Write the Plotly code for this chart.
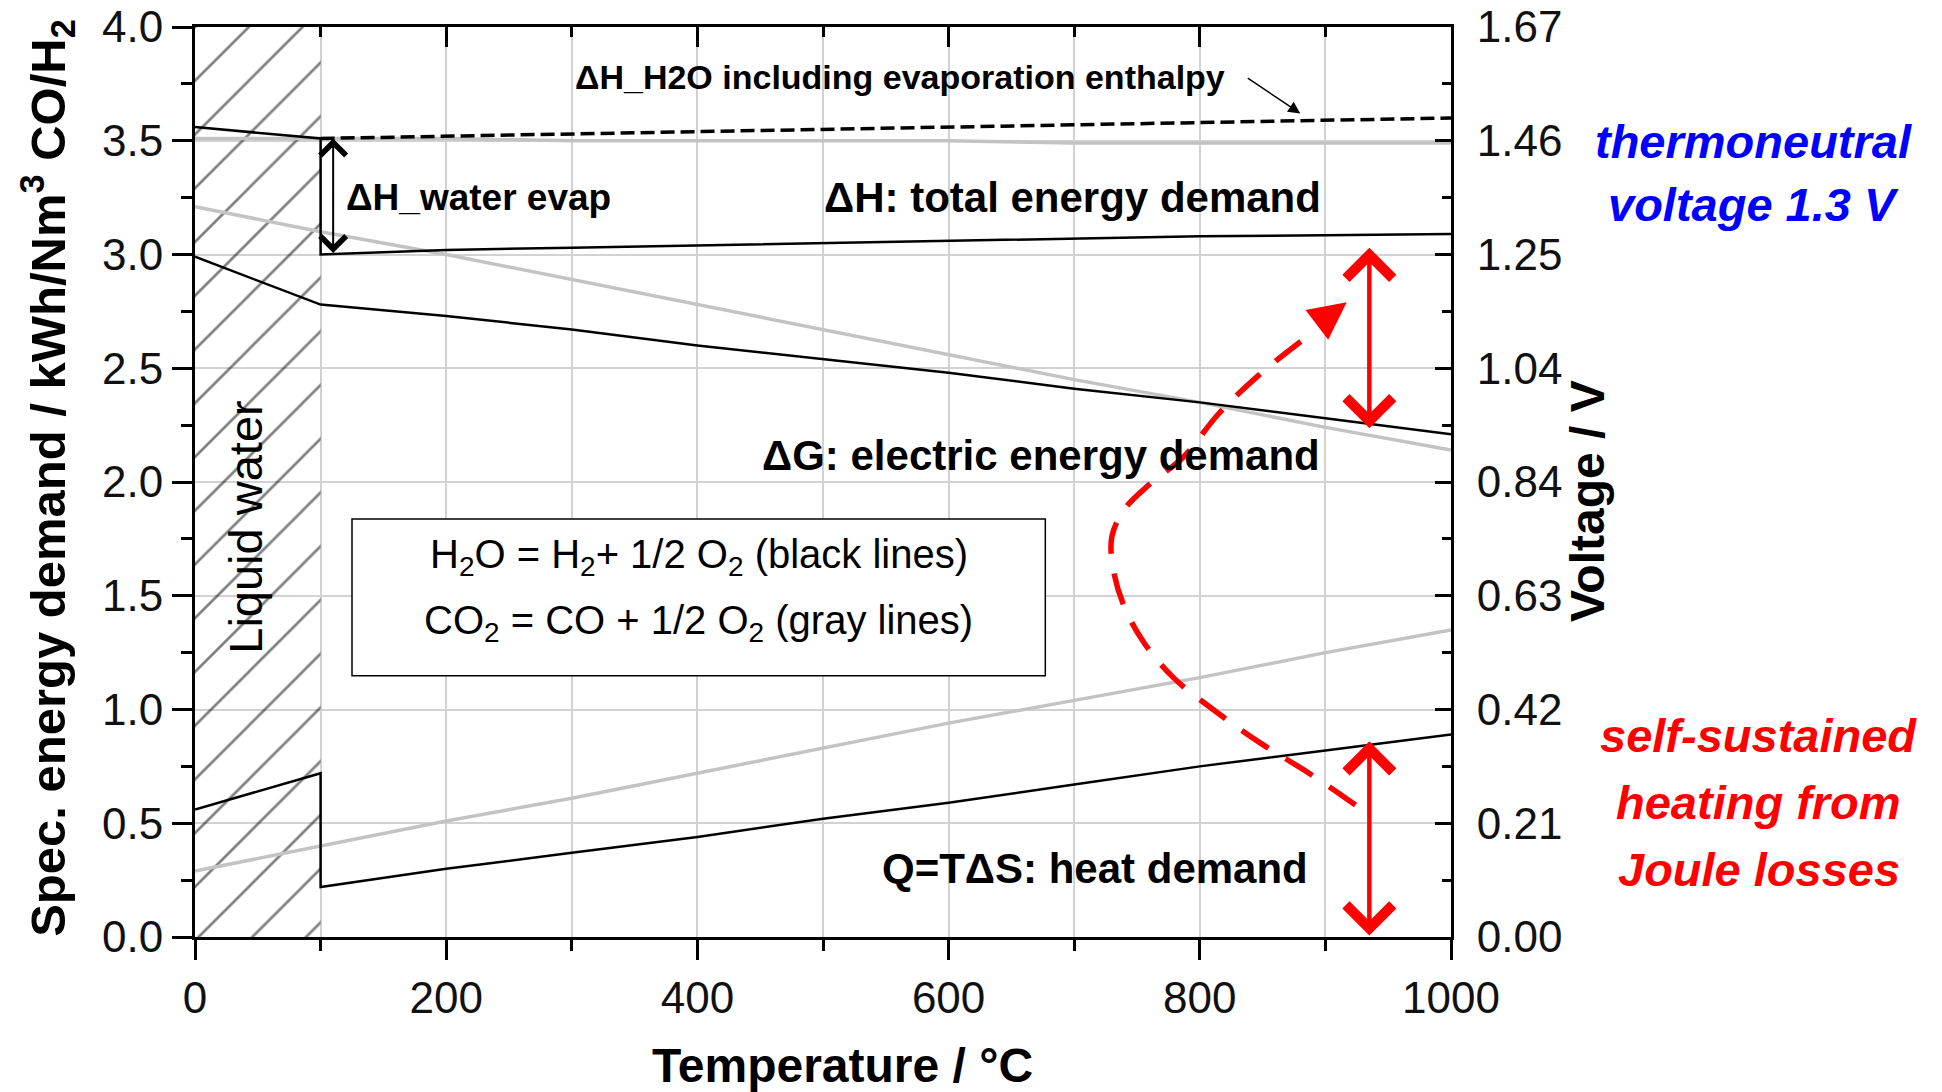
import plotly.graph_objects as go

FONT = "Liberation Sans, Arial, Helvetica, sans-serif"
GRID = "#d2d2d2"
GRAY = "#c3c3c3"

# ---------------- data ----------------
T_all = [0, 100, 200, 300, 400, 500, 600, 700, 800, 900, 1000]
T_liquid = [0, 100]
T_steam = [100, 200, 300, 400, 500, 600, 700, 800, 900, 1000]

# H2O = H2 + 1/2 O2  (black lines), kWh/Nm3
h2o_dH_liquid = [3.56, 3.51]
h2o_dH_steam = [3.00, 3.02, 3.03, 3.04, 3.05, 3.06, 3.07, 3.08, 3.085, 3.09]
h2o_dH_incl_evap = [3.51, 3.52, 3.53, 3.54, 3.55, 3.56, 3.57, 3.58, 3.59, 3.60]
h2o_dG = [2.99, 2.78, 2.73, 2.67, 2.60, 2.54, 2.48, 2.41, 2.35, 2.28, 2.21]
h2o_Q_liquid = [0.56, 0.72]
h2o_Q_steam = [0.22, 0.30, 0.37, 0.44, 0.52, 0.59, 0.67, 0.75, 0.82, 0.89]

# CO2 = CO + 1/2 O2  (gray lines)
co2_dH = [3.51, 3.51, 3.51, 3.50, 3.50, 3.50, 3.50, 3.49, 3.49, 3.49, 3.49]
co2_dG = [3.21, 3.10, 3.00, 2.89, 2.78, 2.67, 2.56, 2.45, 2.35, 2.24, 2.14]
co2_Q = [0.29, 0.40, 0.51, 0.61, 0.72, 0.83, 0.94, 1.04, 1.14, 1.25, 1.35]

# liquid-water (hatched) temperature range
liquid_range = [0, 100]
y_range = [0, 4]

# evaporation enthalpy arrow (T, from, to)
evap_arrow_T = 110
evap_arrow_v = [3.51, 3.00]

# red "Joule losses" arrows
joule_T = 935
joule_upper = [3.03, 2.23]
joule_lower = [0.86, 0.00]

# red dashed curved arrow
curve_T = [924, 887, 849, 813, 779, 756, 740, 731, 730, 740, 760, 787, 815, 847, 881]
curve_v = [0.58, 0.72, 0.85, 0.99, 1.14, 1.29, 1.45, 1.62, 1.76, 1.88, 1.99, 2.11, 2.30, 2.47, 2.62]
curve_tip = [917, 2.79]

# tick labels
x_ticks = [0, 200, 400, 600, 800, 1000]
y_ticks = [0, 0.5, 1.0, 1.5, 2.0, 2.5, 3.0, 3.5, 4.0]
voltage_labels = ["0.00", "0.21", "0.42", "0.63", "0.84", "1.04", "1.25", "1.46", "1.67"]

# box with reaction equations (T range, energy range)
box_T = [125, 677]
box_v = [1.148, 1.837]

fig = go.Figure()

# hatched liquid-water region
fig.add_trace(go.Scatter(
    x=[liquid_range[0], liquid_range[0], liquid_range[1], liquid_range[1], liquid_range[0]],
    y=[y_range[0], y_range[1], y_range[1], y_range[0], y_range[0]],
    mode="lines", line=dict(width=0, color="rgba(0,0,0,0)"),
    fill="toself", fillcolor="rgba(0,0,0,0)",
    fillpattern=dict(shape="/", fgcolor="black", bgcolor="rgba(0,0,0,0)",
                     size=38, solidity=0.07, fillmode="overlay"),
    hoverinfo="skip"))

# gray lines (CO2)
for vals in (co2_dH, co2_dG, co2_Q):
    fig.add_trace(go.Scatter(x=T_all, y=vals, mode="lines",
                             line=dict(color=GRAY, width=3.5), hoverinfo="skip"))

# black lines (H2O)
fig.add_trace(go.Scatter(x=T_liquid + T_steam, y=h2o_dH_liquid + h2o_dH_steam, mode="lines",
                         line=dict(color="black", width=2.5), hoverinfo="skip"))
fig.add_trace(go.Scatter(x=T_steam, y=h2o_dH_incl_evap, mode="lines",
                         line=dict(color="black", width=3.5, dash="14px,6px"), hoverinfo="skip"))
fig.add_trace(go.Scatter(x=T_all, y=h2o_dG, mode="lines",
                         line=dict(color="black", width=2.5), hoverinfo="skip"))
fig.add_trace(go.Scatter(x=T_liquid + T_steam, y=h2o_Q_liquid + h2o_Q_steam, mode="lines",
                         line=dict(color="black", width=2.5), hoverinfo="skip"))

# red dashed curve (on overlay axes so they get drawn and sit on top)
fig.add_trace(go.Scatter(x=curve_T, y=curve_v, mode="lines", xaxis="x2", yaxis="y2",
                         line=dict(color="#ff0000", width=5.5, dash="32px,20px", shape="spline",
                                   smoothing=1.0),
                         hoverinfo="skip"))

# equations box
fig.add_shape(type="rect", xref="x", yref="y", x0=box_T[0], x1=box_T[1], y0=box_v[0], y1=box_v[1],
              line=dict(color="black", width=1.5), fillcolor="white", layer="above")

ann = []
def text(x, y, s, size, bold=True, xanchor="center", color="black", italic=False,
         xref="x", yref="y", angle=0):
    ann.append(dict(x=x, y=y, xref=xref, yref=yref, text=s, showarrow=False, xanchor=xanchor,
                    yanchor="middle", textangle=angle,
                    font=dict(family=FONT, size=size, color=color,
                              weight="bold" if bold else "normal",
                              style="italic" if italic else "normal")))

text(561, 3.78, "ΔH_H2O including evaporation enthalpy", 34)
text(119, 3.25, "ΔH_water evap", 37, xanchor="left")
text(898, 3.25, "ΔH: total energy demand", 42, xanchor="right")
text(897, 2.115, "ΔG: electric energy demand", 42, xanchor="right")
text(888, 0.30, "Q=TΔS: heat demand", 42, xanchor="right")
text(40, 1.80, "Liquid water", 47, bold=False, angle=-90)
text(401, 1.67, "H<sub>2</sub>O = H<sub>2</sub>+ 1/2 O<sub>2</sub> (black lines)", 40, bold=False)
text(401, 1.38, "CO<sub>2</sub> = CO + 1/2 O<sub>2</sub> (gray lines)", 40, bold=False)

# axis titles (paper coordinates)
text(0.5154, -0.1407, "Temperature / °C", 48, xref="paper", yref="paper")
text(-0.1175, 0.505, "Spec. energy demand / kWh/Nm<sup>3</sup> CO/H<sub>2</sub>", 49,
     xref="paper", yref="paper", angle=-90)
text(1.1087, 0.4785, "Voltage / V", 48, xref="paper", yref="paper", angle=-90)

# right side notes (paper coordinates)
for s, yp in zip(["thermoneutral", "voltage 1.3 V"], [0.8745, 0.805]):
    text(1.2405, yp, s, 47, color="#0000ff", italic=True, xref="paper", yref="paper")
for s, yp in zip(["self-sustained", "heating from", "Joule losses"], [0.2209, 0.1473, 0.0747]):
    text(1.245, yp, s, 47, color="#ff0000", italic=True, xref="paper", yref="paper")

# arrows
ann.append(dict(x=880, y=3.62, ax=837, ay=3.78, xref="x", yref="y", axref="x", ayref="y",
                showarrow=True, arrowhead=2, arrowsize=1.6, arrowwidth=1.5, arrowcolor="black", text=""))
ann.append(dict(x=evap_arrow_T, y=evap_arrow_v[0], ax=evap_arrow_T, ay=evap_arrow_v[1],
                xref="x", yref="y", axref="x", ayref="y", showarrow=True, arrowside="end+start",
                arrowhead=4, startarrowhead=4, arrowsize=2.5, startarrowsize=2.5,
                arrowwidth=2, arrowcolor="black", text=""))
for seg in (joule_upper, joule_lower):
    ann.append(dict(x=joule_T, y=seg[0], ax=joule_T, ay=seg[1],
                    xref="x", yref="y", axref="x", ayref="y", showarrow=True, arrowside="end+start",
                    arrowhead=4, startarrowhead=4, arrowsize=2.0, startarrowsize=2.0,
                    arrowwidth=4.5, arrowcolor="#ff0000", text=""))
ann.append(dict(x=curve_tip[0], y=curve_tip[1], ax=-29, ay=22, xref="x", yref="y",
                showarrow=True, arrowhead=2, arrowsize=1.5, arrowwidth=5, arrowcolor="#ff0000", text=""))

tickfont = dict(family=FONT, size=44, color="#111111")

fig.update_layout(
    width=1942, height=1092,
    margin=dict(l=195, r=491, t=27, b=155),
    paper_bgcolor="white", plot_bgcolor="white", showlegend=False,
    font=dict(family=FONT, color="black"),
    annotations=ann,
    xaxis=dict(range=[0, 1000], tickmode="array", tickvals=x_ticks, ticks="outside", ticklen=20,
               tickwidth=3, tickcolor="black", showline=True, linewidth=3, linecolor="black",
               showgrid=True, gridcolor=GRID, gridwidth=1.5, zeroline=False, automargin=False,
               minor=dict(dtick=100, tick0=0, ticks="outside", ticklen=11, tickwidth=3,
                          tickcolor="black", showgrid=True, gridcolor=GRID, gridwidth=1.5),
               tickfont=tickfont),
    xaxis2=dict(overlaying="x", side="top", range=[0, 1000], tickmode="array", tickvals=x_ticks,
                ticks="inside", ticklen=20, tickwidth=3, tickcolor="black", showticklabels=False,
                showline=True, linewidth=3, linecolor="black", showgrid=False, zeroline=False,
                automargin=False,
                minor=dict(dtick=100, tick0=0, ticks="inside", ticklen=10, tickwidth=3,
                           tickcolor="black", showgrid=False)),
    yaxis=dict(range=y_range, tickmode="array", tickvals=y_ticks,
               ticktext=[f"{v:.1f}" for v in y_ticks], ticks="outside", ticklen=20,
               tickwidth=3, tickcolor="black", showline=True, linewidth=3, linecolor="black",
               showgrid=True, gridcolor=GRID, gridwidth=1.5, zeroline=False, automargin=False,
               minor=dict(dtick=0.25, tick0=0, ticks="outside", ticklen=11, tickwidth=3,
                          tickcolor="black", showgrid=False),
               tickfont=tickfont),
    yaxis2=dict(overlaying="y", side="right", range=y_range, tickmode="array", tickvals=y_ticks,
                ticktext=voltage_labels, ticks="inside", ticklen=16, tickwidth=3, tickcolor="black",
                showline=True, linewidth=3, linecolor="black", showgrid=False, zeroline=False,
                automargin=False,
                minor=dict(dtick=0.25, tick0=0, ticks="inside", ticklen=9, tickwidth=3,
                           tickcolor="black", showgrid=False),
                tickfont=tickfont, ticklabelstandoff=14),
)

fig.write_html("out.html", config={"displayModeBar": False},
               post_script="document.body.style.margin='0px';document.body.style.overflow='hidden';")
